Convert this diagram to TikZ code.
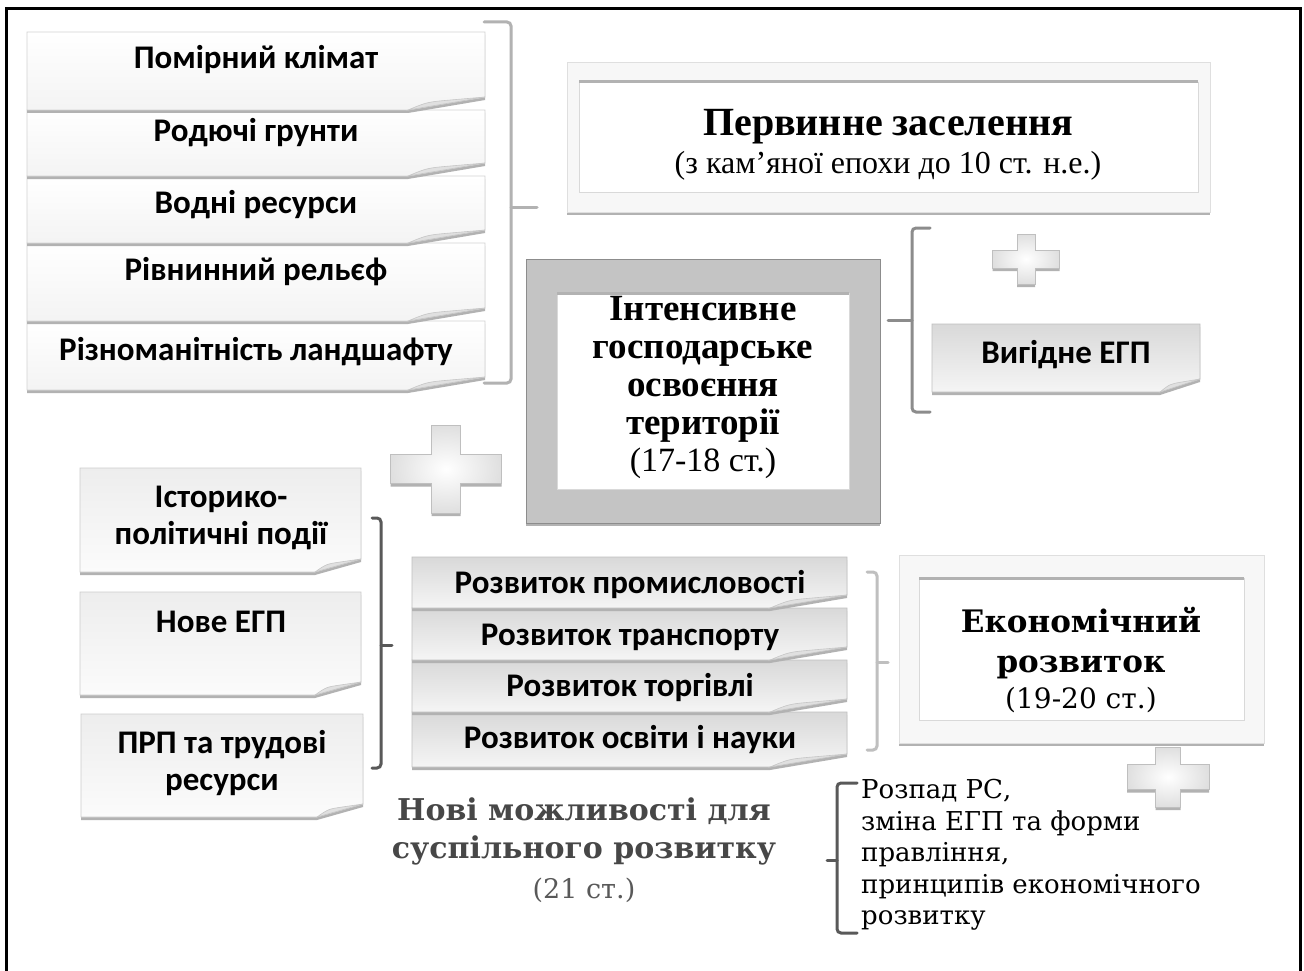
\documentclass[tikz,border=0pt]{standalone}
\usepackage{fontspec}
\setmainfont{Liberation Serif}
\newfontfamily\cardfont{Carlito}
\newfontfamily\geofont{DejaVu Serif}

\tikzset{
  shadowed/.style={preaction={fill=gray!60, transform canvas={yshift=-3pt}}},
  cardlight/.style={draw=gray!35, line width=0.8, top color=white, bottom color=gray!9},
  cardgrey/.style={draw=gray!40, line width=0.8, top color=gray!14, bottom color=gray!3},
  carddark/.style={draw=gray!50, line width=0.8, top color=gray!30, bottom color=gray!8},
  panellight/.style={draw=gray!25, line width=0.8, fill=gray!6},
  paneldark/.style={draw=black!45, line width=0.8, fill=black!23},
  plusbox/.style={draw=gray!50, line width=0.8, inner color=white, outer color=gray!25},
  brace/.style={line width=3, rounded corners=4, line cap=round},
  cardtext/.style={font=\cardfont\bfseries\fontsize{33}{37}\selectfont, align=center, inner sep=0pt},
  titletext/.style={font=\bfseries\fontsize{37}{38}\selectfont, align=center, inner sep=0pt},
  datetext/.style={font=\fontsize{34}{36}\selectfont, inner sep=0pt},
  geotitle/.style={font=\geofont\bfseries\fontsize{31}{40}\selectfont, align=center, inner sep=0pt},
  geodate/.style={font=\geofont\fontsize{28}{32}\selectfont, inner sep=0pt},
}

% a card with its bottom right corner folded: style, left, top, right, bottom, fold width
\newcommand{\notecard}[6]{%
  \path[#1, shadowed] (#2,#3) -- (#4,#3) -- (#4,#5-13) -- (#4-#6,#5) -- (#2,#5) -- cycle;
  \filldraw[draw=gray!45, fill=gray!24, line width=0.6]
    (#4-#6,#5) .. controls (#4-0.75*#6,#5-8) .. (#4-0.45*#6,#5-10) -- (#4,#5-13) -- cycle;
}
% a double frame: style, left, top, right, bottom, side inset, top inset
\newcommand{\framedpanel}[7]{%
  \path[#1, shadowed] (#2,#3) rectangle (#4,#5);
  \path[fill=white, draw=gray!30, line width=0.8] (#2+#6,#3+#7) rectangle (#4-#6,#5-#7);
  \draw[gray!60, line width=3] (#2+#6,#3+#7) -- (#4-#6,#3+#7);
}
% a plus sign: centre x, centre y, half width, half height, half arm
\newcommand{\plussign}[5]{%
  \path[plusbox, shadowed] (#1-#5,#2-#4) -- (#1+#5,#2-#4) -- (#1+#5,#2-#5) -- (#1+#3,#2-#5)
    -- (#1+#3,#2+#5) -- (#1+#5,#2+#5) -- (#1+#5,#2+#4) -- (#1-#5,#2+#4) -- (#1-#5,#2+#5)
    -- (#1-#3,#2+#5) -- (#1-#3,#2-#5) -- (#1-#5,#2-#5) -- cycle;
}

\begin{document}
\begin{tikzpicture}[x=1pt,y=-1pt]
\useasboundingbox (0,0) rectangle (1304,971);
\fill[white] (0,0) rectangle (1304,971);
% outer frame, open at the bottom
\draw[line width=3] (6,975) -- (6,9) -- (1300,9) -- (1300,975);

% natural conditions: five stacked cards, drawn from the bottom up
\notecard{cardlight}{27}{321}{485}{390}{77}
\notecard{cardlight}{27}{243}{485}{321}{77}
\notecard{cardlight}{27}{176}{485}{243}{77}
\notecard{cardlight}{27}{110}{485}{176}{77}
\notecard{cardlight}{27}{32}{485}{110}{77}
\node[cardtext] (klimat)    at (256,60)  {Помірний клімат};
\node[cardtext] (grunty)    at (256,133) {Родючі грунти};
\node[cardtext] (vody)      at (256,205) {Водні ресурси};
\node[cardtext] (relief)    at (256,272) {Рівнинний рельєф};
\node[cardtext] (landscape) at (256,352) {Різноманітність ландшафту};
\draw[brace, gray!60] (484,22) -- (511,22) -- (511,383) -- (484,383);
\draw[brace, gray!60] (511,207) -- (537,207);

% first stage
\framedpanel{panellight}{567}{62}{1210}{212}{12}{20}
\node[titletext, font=\bfseries\fontsize{40}{42}\selectfont] (settle) at (888,127) {Первинне заселення};
\node[datetext, font=\fontsize{32}{34}\selectfont] (settledate) at (888,166) {(з кам’яної епохи до 10 ст. н.е.)};

% second stage
\framedpanel{paneldark}{526}{259}{880}{523}{31}{34}
\node[titletext] (intensive) at (703,369) {Інтенсивне\\господарське\\освоєння\\території};
\node[datetext] (intensivedate) at (703,463) {(17-18 ст.)};
\draw[brace, black!45] (930,228) -- (912,228) -- (912,412) -- (930,412);
\draw[brace, black!45] (912,320) -- (888,320);
\plussign{1026}{259}{33.5}{25}{9}
\notecard{carddark}{932}{324}{1200}{392}{40}
\node[cardtext] (egp) at (1066,355) {Вигідне ЕГП};
\plussign{446}{469}{55.5}{44}{14.5}

% historical factors
\notecard{cardgrey}{80}{468}{361}{572}{46}
\notecard{cardgrey}{80}{592}{361}{695}{46}
\notecard{cardgrey}{81}{714}{363}{817}{46}
\node[cardtext] (history) at (221,518) {Історико-\\політичні події};
\node[cardtext] (newegp)  at (221,622) {Нове ЕГП};
\node[cardtext] (labour)  at (222,763) {ПРП та трудові\\ресурси};
\draw[brace, black!65] (372,518) -- (381,518) -- (381,768) -- (372,768);
\draw[brace, black!65] (381,645) -- (392,645);

% branches of the economy, drawn from the bottom up
\notecard{carddark}{412}{712}{847}{767}{77}
\notecard{carddark}{412}{660}{847}{712}{77}
\notecard{carddark}{412}{608}{847}{660}{77}
\notecard{carddark}{412}{557}{847}{608}{77}
\node[cardtext] (industry)  at (630,585) {Розвиток промисловості};
\node[cardtext] (transport) at (630,637) {Розвиток транспорту};
\node[cardtext] (trade)     at (630,688) {Розвиток торгівлі};
\node[cardtext] (science)   at (630,740) {Розвиток освіти і науки};
\draw[brace, gray!50] (867,572) -- (877,572) -- (877,750) -- (867,750);
\draw[brace, gray!50] (877,662) -- (888,662);

% third stage
\framedpanel{panellight}{899}{555}{1264}{743}{20}{23}
\node[geotitle] (economy) at (1081,643) {Економічний\\розвиток};
\node[geodate] (economydate) at (1081,700) {(19-20 ст.)};
\plussign{1168}{777}{41}{30}{12.5}

% present day
\node[geotitle, font=\geofont\bfseries\fontsize{30}{38}\selectfont, text=black!72] (chances) at (584,831) {Нові можливості для\\суспільного розвитку};
\node[geodate, text=black!65, font=\geofont\fontsize{27}{30}\selectfont] (chancesdate) at (584,890) {(21 ст.)};
\draw[brace, black!65] (857,783) -- (837,783) -- (837,933) -- (857,933);
\draw[brace, black!65] (837,860) -- (827,860);
\node[anchor=west, align=left, inner sep=0pt, font=\geofont\fontsize{26}{31.5}\selectfont] (changes) at (861,855)
  {Розпад РС,\\зміна ЕГП та форми\\правління,\\принципів економічного\\розвитку};
\end{tikzpicture}
\end{document}
